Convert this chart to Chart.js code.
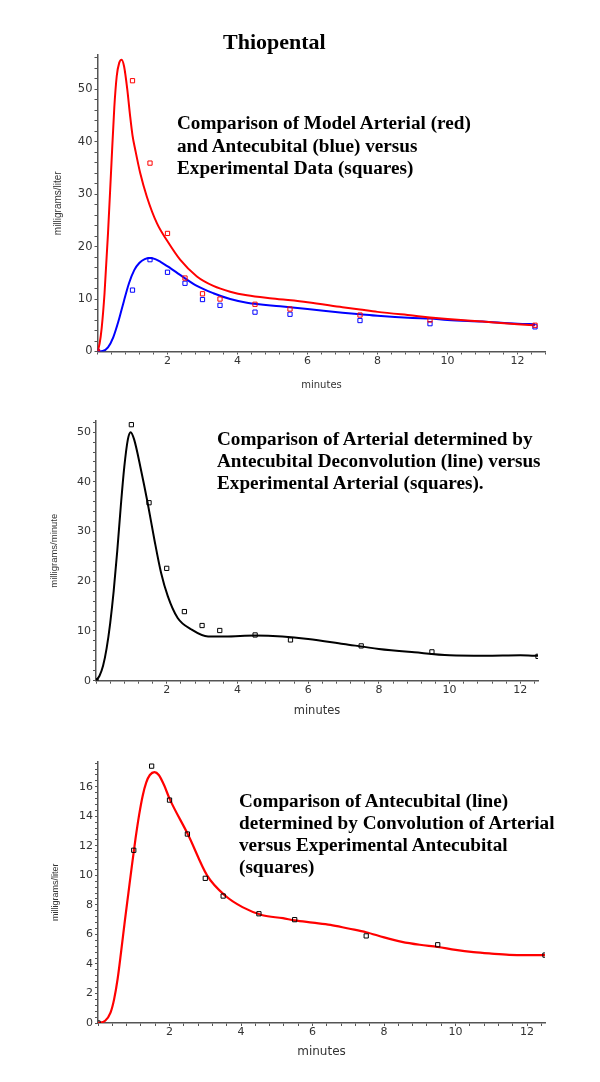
<!DOCTYPE html>
<html>
<head>
<meta charset="utf-8">
<script src="https://cdn.jsdelivr.net/npm/chart.js@4.4.1/dist/chart.umd.min.js"></script>
<style>
html,body{margin:0;padding:0;background:#fff;}
body{width:600px;height:1082px;position:relative;overflow:hidden;}
canvas{position:absolute;left:0;}
.note{position:absolute;z-index:2;font-family:"Liberation Serif","Times New Roman",serif;font-weight:bold;font-size:19.2px;color:#000;white-space:nowrap;}
</style>
</head>
<body>
<canvas id="c1" width="600" height="400" style="top:0px"></canvas>
<canvas id="c2" width="600" height="330" style="top:400px"></canvas>
<canvas id="c3" width="600" height="352" style="top:730px"></canvas>

<div class="note" style="left:223px;top:29px;font-size:22px;line-height:26px;">Thiopental</div>
<div class="note" style="left:177px;top:112px;line-height:22.5px;">Comparison of Model Arterial (red)<br>and Antecubital (blue) versus<br>Experimental Data (squares)</div>
<div class="note" style="left:217px;top:428px;line-height:22px;">Comparison of Arterial determined by<br>Antecubital Deconvolution (line) versus<br>Experimental Arterial (squares).</div>
<div class="note" style="left:239px;top:790px;line-height:22px;">Comparison of Antecubital (line)<br>determined by Convolution of Arterial<br>versus Experimental Antecubital<br>(squares)</div>

<script>
// ---------- DATA ----------
// experimental sample times (minutes)
const sampleTimes = [0, 1, 1.5, 2, 2.5, 3, 3.5, 4.5, 5.5, 7.5, 9.5, 12.5];

// Chart 1: experimental squares
const expArterial1 = [0, 51.6, 35.9, 22.5, 14.0, 11.0, 10.0, 9.0, 8.1, 6.95, 6.0, 5.0];
const expAntecubital1 = [0, 11.7, 17.5, 15.1, 13.0, 9.9, 8.8, 7.5, 7.1, 5.9, 5.3, 4.7];

// Chart 1: model curves [minutes, mg/l]
const modelArterial = [[0,0],[0.06,1.5],[0.12,4.5],[0.2,11],[0.3,22.5],[0.4,36],[0.48,46.5],[0.55,52.5],[0.62,55],[0.69,55.6],[0.76,54.3],[0.85,50],[0.93,45],[1.0,41.2],[1.08,38.4],[1.22,34],[1.41,29.5],[1.7,24.4],[2.0,21],[2.36,17.5],[2.84,14.3],[3.31,12.5],[3.79,11.4],[4.27,10.7],[5.0,10.1],[6,9.4],[7,8.45],[7.5,8.0],[8,7.55],[9,6.85],[9.5,6.5],[10,6.2],[11,5.7],[12,5.2],[12.5,5.0]];
const modelAntecubital = [[0,0],[0.15,0.1],[0.3,0.8],[0.45,2.7],[0.6,5.8],[0.75,9.5],[0.9,13],[1.05,15.5],[1.2,16.9],[1.35,17.6],[1.5,17.8],[1.65,17.6],[1.8,17.1],[2.08,15.9],[2.36,14.6],[2.84,12.5],[3.31,11.1],[3.79,10],[4.27,9.3],[5.22,8.6],[6,8.1],[7,7.4],[7.5,7.1],[8,6.8],[9,6.4],[9.5,6.3],[10,6.0],[11,5.7],[12,5.3],[12.5,5.2]];

// Chart 2: experimental arterial and deconvolution curve
const expArterial2 = [0, 51.5, 35.8, 22.6, 13.9, 11.1, 10.1, 9.2, 8.2, 7.0, 5.8, 4.9];
const deconvArterial = [[0,0],[0.1,1],[0.2,3],[0.3,6.5],[0.4,11.5],[0.5,18],[0.6,26],[0.7,35],[0.8,43],[0.9,48.5],[0.98,50],[1.08,48.5],[1.27,42.5],[1.46,35.8],[1.65,28.4],[1.84,21.7],[2.03,17],[2.31,12.6],[2.7,10.3],[3.17,8.9],[3.65,8.9],[4.5,9.1],[5.27,8.9],[6,8.4],[7,7.4],[8,6.4],[9,5.7],[10,5.1],[11,5.0],[12,5.1],[12.5,5.0]];

// Chart 3: experimental antecubital and convolution curve
const expAntecubital3 = [0, 11.7, 17.4, 15.1, 12.8, 9.8, 8.6, 7.4, 7.0, 5.9, 5.3, 4.6];
const convAntecubital = [[0,0],[0.2,0.15],[0.35,0.7],[0.45,1.6],[0.55,3.0],[0.65,4.9],[0.75,6.9],[0.85,8.8],[0.95,10.7],[1.05,12.5],[1.15,14.1],[1.25,15.4],[1.35,16.3],[1.45,16.8],[1.58,17.0],[1.7,16.8],[1.85,16.1],[2.0,15.2],[2.53,12.7],[3.05,10.0],[3.57,8.6],[4.04,7.85],[4.6,7.3],[5.17,7.1],[5.5,6.95],[6,6.8],[6.5,6.65],[7,6.4],[7.5,6.15],[8,5.8],[8.5,5.5],[9,5.3],[9.5,5.15],[10,4.95],[10.5,4.8],[11,4.7],[11.5,4.62],[12,4.6],[12.5,4.6]];

// tick labels
const xTickLabels = [2, 4, 6, 8, 10, 12];
const yTickLabels1 = [0, 10, 20, 30, 40, 50];
const yTickLabels2 = [0, 10, 20, 30, 40, 50];
const yTickLabels3 = [0, 2, 4, 6, 8, 10, 12, 14, 16];

// ---------- BUILD ----------
const pts = (xs, ys) => xs.map((x, i) => ({x: x, y: ys[i]}));
const pairs = (arr) => arr.map(p => ({x: p[0], y: p[1]}));

function labeler(list) {
  return function (v) {
    for (const l of list) if (Math.abs(l - v) < 1e-6) return String(l);
    return '';
  };
}

function curve(data, color, w) {
  return {data: pairs(data), showLine: true, borderColor: color, borderWidth: w,
    pointRadius: 0, cubicInterpolationMode: 'monotone', fill: false, order: 2};
}
function squares(data, color) {
  return {data: data, showLine: false, pointStyle: 'rect', pointRadius: 3,
    borderColor: color, borderWidth: 1, backgroundColor: 'rgba(255,255,255,0)', order: 1};
}

function axisCommon() {
  return {
    grid: {display: true, drawOnChartArea: false, drawTicks: true, tickLength: 3, color: '#555', lineWidth: 1},
    border: {display: true, color: '#555', width: 1.5}
  };
}

function build(id, o) {
  const ax = axisCommon(), ay = axisCommon();
  new Chart(document.getElementById(id), {
    type: 'scatter',
    data: {datasets: o.datasets},
    options: {
      responsive: false, animation: false, devicePixelRatio: 1, events: [],
      layout: {padding: o.padding},
      plugins: {legend: {display: false}, tooltip: {enabled: false}},
      scales: {
        x: Object.assign(ax, {
          type: 'linear', min: 0, max: o.xMax,
          afterFit: s => { s.height = 40; },
          ticks: {stepSize: 0.4, includeBounds: false, autoSkip: false, maxRotation: 0, padding: 0,
            color: '#333', font: {family: 'DejaVu Sans', size: 11}, callback: labeler(xTickLabels)},
          title: {display: true, text: 'minutes', color: '#333',
            font: {family: 'DejaVu Sans', size: o.xTitleSize}, padding: {top: 0, bottom: o.xTitlePad}}
        }),
        y: Object.assign(ay, {
          type: 'linear', min: 0, max: o.yMax,
          afterFit: s => { s.width = o.yWidth; },
          ticks: {stepSize: o.yStep, includeBounds: false, autoSkip: false, padding: 2,
            color: '#333', font: {family: 'DejaVu Sans', size: o.yTickSize}, callback: labeler(o.yLabels)},
          title: {display: true, text: o.yTitle, color: '#333',
            font: {family: 'Liberation Sans', size: o.yTitleSize}, padding: {top: o.yTitlePad, bottom: 0}}
        })
      }
    }
  });
}

build('c1', {
  datasets: [
    curve(modelArterial, '#ff0000', 2),
    curve(modelAntecubital, '#0000ff', 2),
    squares(pts(sampleTimes, expArterial1), '#ff0000'),
    squares(pts(sampleTimes, expAntecubital1), '#0000ff')
  ],
  padding: {top: 55, right: 54.5, bottom: 8.5, left: 0},
  xMax: 12.8, yMax: 56.5, yStep: 2, yWidth: 97.5, yLabels: yTickLabels1, yTickSize: 11.5,
  yTitle: 'milligrams/liter', yTitleSize: 10, yTitlePad: 52,
  xTitleSize: 10, xTitlePad: 0.5
});

build('c2', {
  datasets: [
    curve(deconvArterial, '#000000', 2),
    squares(pts(sampleTimes, expArterial2), '#000000')
  ],
  padding: {top: 20.7, right: 62, bottom: 9.3, left: 0},
  xMax: 12.5, yMax: 52.3, yStep: 2, yWidth: 96, yLabels: yTickLabels2, yTickSize: 11,
  yTitle: 'milligrams/minute', yTitleSize: 9.5, yTitlePad: 48.3,
  xTitleSize: 11.5, xTitlePad: 2.8
});

build('c3', {
  datasets: [
    curve(convAntecubital, '#ff0000', 2.2),
    squares(pts(sampleTimes, expAntecubital3), '#000000')
  ],
  padding: {top: 31.7, right: 55, bottom: 19, left: 0},
  xMax: 12.5, yMax: 17.7, yStep: 0.4, yWidth: 98, yLabels: yTickLabels3, yTickSize: 11,
  yTitle: 'milligrams/liter', yTitleSize: 9, yTitlePad: 50.6,
  xTitleSize: 12, xTitlePad: 3.8
});
</script>
</body>
</html>
